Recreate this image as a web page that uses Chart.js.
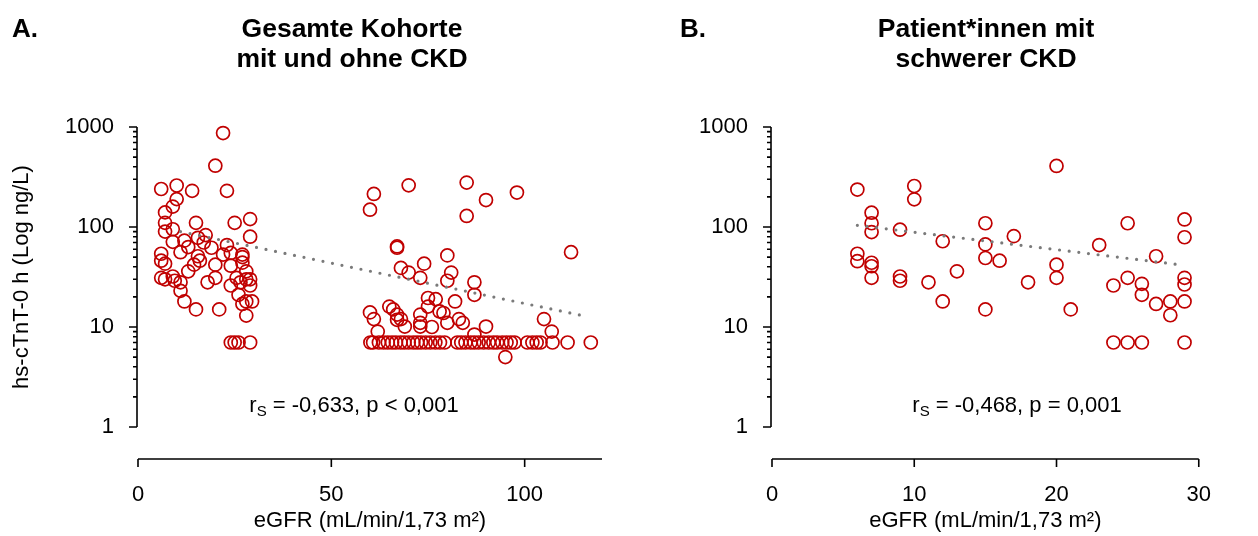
<!DOCTYPE html>
<html lang="de">
<head>
  <meta charset="UTF-8">
  <title>hs-cTnT vs eGFR</title>
  <script src="https://cdn.jsdelivr.net/npm/chart.js@4.4.1/dist/chart.umd.min.js"></script>
  <style>
    body {
      margin: 0;
      background: #fff;
      font-family: "Liberation Sans", Arial, sans-serif;
      color: #000;
    }
    #wrap { position: relative; width: 1258px; height: 536px; }
    canvas { position: absolute; top: 0; }
    .tag { position: absolute; top: 13px; font-weight: bold; font-size: 26px; }
    .title {
      position: absolute; top: 13px; font-weight: bold; font-size: 26.5px;
      line-height: 30px; text-align: center; white-space: nowrap;
      transform: translateX(-50%);
    }
    .stat {
      position: absolute; top: 392px; font-size: 22px; white-space: nowrap;
      transform: translateX(-50%);
    }
    .stat sub { font-size: 15px; vertical-align: -4px; line-height: 0; }
  </style>
</head>
<body>
<div id="wrap">
  <canvas id="chartA" width="629" height="536" style="left:0"></canvas>
  <canvas id="chartB" width="629" height="536" style="left:629px"></canvas>
  <div class="tag" style="left:12px">A.</div>
  <div class="tag" style="left:680px">B.</div>
  <div class="title" style="left:352px">Gesamte Kohorte<br>mit und ohne CKD</div>
  <div class="title" style="left:986px">Patient*innen mit<br>schwerer CKD</div>
  <div class="stat" style="left:354px">r<sub>S</sub> = -0,633, p &lt; 0,001</div>
  <div class="stat" style="left:1017px">r<sub>S</sub> = -0,468, p = 0,001</div>
</div>

<script>
  // --- data: panel A (whole cohort) ---
  const egfrA = [
    22, 20, 6, 10, 10, 14, 23, 9, 7, 7, 7, 9, 15, 25, 29, 29, 17.5, 9, 12, 15.5,
    17, 13, 11, 19, 23, 24, 22, 27, 27, 6, 6, 7, 15.5, 16, 14.5, 13, 20, 24, 27, 28,
    6, 7, 9, 9.5, 11, 11, 12, 15, 18, 20, 21, 24, 25.5, 26.5, 28, 29, 29, 26, 27, 28,
    29.5, 28, 24, 25, 26, 29,
    61, 60, 70, 85, 85, 90, 98, 112,
    67, 67, 68, 70, 74, 73, 80, 81, 80, 87, 87, 75, 77, 75, 82, 60, 61, 62, 65, 66,
    67, 68, 67, 69, 73, 73, 73, 76, 78, 79, 80, 83, 84, 90, 87, 105, 107, 95,
    60.1, 60.8, 62.3, 63.5, 64.6, 65.7, 66.7, 67.9, 68.9, 70, 71.2, 72.2, 73.2, 74.4,
    75.6, 76.9, 78.1, 79.3, 82.6, 83.6, 84.7, 86, 87, 88.1, 89.4, 90.7, 91.9, 92.9,
    94.2, 95.3, 96.4, 97.4, 100.7, 102, 103.1, 104.1, 107.2, 111.1, 117.1
  ];
  const tntA = [
    870, 410, 240, 260, 190, 230, 230, 160, 140, 110, 90, 95, 110, 110, 120, 80, 83, 71, 73, 78,
    70, 63, 56, 62, 66, 55, 53, 53, 50, 54, 46, 43, 51, 46, 42, 36, 42, 41, 44, 36,
    31, 30, 32, 29, 28, 23, 18, 15, 28, 31, 15, 26, 31, 28, 30, 30, 26, 21, 17, 18,
    18, 13, 7, 7, 7, 7,
    214, 149, 261, 278, 129, 186, 221, 56,
    62, 64, 39, 35, 43, 31, 52, 35, 29, 28, 21, 19.5, 19, 16, 18, 14, 12, 9, 16, 15,
    13.3, 12, 11.8, 10.1, 13.3, 11, 10.1, 10, 14.3, 13.8, 11, 12, 11, 10.1, 8.4, 12, 9, 5,
    7, 7, 7, 7, 7, 7, 7, 7, 7, 7, 7, 7, 7, 7,
    7, 7, 7, 7, 7, 7, 7, 7, 7, 7, 7, 7, 7, 7,
    7, 7, 7, 7, 7, 7, 7, 7, 7, 7, 7
  ];
  const trendA = [[11, 90], [115, 13]];

  // --- data: panel B (severe CKD) ---
  const egfrB = [
    6, 7, 7, 7, 6, 6, 7, 7, 7, 9, 9, 9, 10, 10, 11, 12, 12, 13, 15, 15,
    15, 15, 16, 17, 18, 20, 20, 20, 21, 23, 24, 24, 25, 25, 25, 26, 26, 26, 27, 27,
    28, 28, 29, 29, 29, 29, 29, 29
  ];
  const tntB = [
    237, 139, 109, 89, 54, 45.5, 43.9, 40.5, 31, 94, 32, 29, 257, 189, 28, 72, 18, 36, 109, 67,
    49, 15, 46, 81, 28, 408, 42, 31, 15, 66, 26, 7, 109, 31, 7, 27, 21, 7, 51, 17,
    18, 13.1, 119, 79, 31, 26.6, 18, 7
  ];
  const trendB = [[6, 104], [29, 41.4]];

  const yTicks = [1, 10, 100, 1000];
  const xTicksA = [0, 50, 100];
  const xTicksB = [0, 10, 20, 30];

  const RED = '#c00000';
  const FONT = { family: '"Liberation Sans", Arial, sans-serif', size: 22 };

  // GraphPad-style axes (x axis dropped below the plot), drawn from the scales
  const offsetAxes = {
    id: 'offsetAxes',
    afterDraw(chart, args, opts) {
      const { ctx, chartArea, scales: { x, y } } = chart;
      const ax = chartArea.left - opts.yGap;
      const ay = chartArea.bottom + opts.xGap;
      ctx.save();
      ctx.strokeStyle = '#000';
      ctx.lineWidth = 1.6;
      ctx.lineCap = 'butt';
      ctx.beginPath();
      ctx.moveTo(ax, y.getPixelForValue(yTicks[0]));
      ctx.lineTo(ax, y.getPixelForValue(yTicks[yTicks.length - 1]));
      yTicks.forEach((v, i) => {
        const p = y.getPixelForValue(v);
        ctx.moveTo(ax - 8, p); ctx.lineTo(ax, p);
        if (i < yTicks.length - 1) {
          for (let k = 2; k <= 9; k++) {
            const q = y.getPixelForValue(v * k);
            ctx.moveTo(ax - 4, q); ctx.lineTo(ax, q);
          }
        }
      });
      ctx.moveTo(x.getPixelForValue(x.min), ay);
      ctx.lineTo(x.getPixelForValue(x.max), ay);
      opts.xTicks.forEach(v => {
        const p = x.getPixelForValue(v);
        ctx.moveTo(p, ay); ctx.lineTo(p, ay + 8);
      });
      ctx.stroke();
      ctx.restore();
    }
  };

  function makePanel(id, egfr, tnt, trend, xMax, xTicks, leftW, rightPad, yTitle) {
    const pts = egfr.map((v, i) => ({ x: v, y: tnt[i] }));
    return new Chart(document.getElementById(id), {
      type: 'scatter',
      data: {
        datasets: [
          {
            data: trend.map(p => ({ x: p[0], y: p[1] })),
            showLine: true,
            borderColor: '#7a7a7a',
            borderWidth: 3.2,
            borderDash: [0, 9.7],
            borderCapStyle: 'round',
            pointRadius: 0,
            order: 0
          },
          {
            data: pts,
            pointRadius: 6.5,
            pointBorderWidth: 1.7,
            pointBorderColor: RED,
            pointBackgroundColor: 'rgba(0,0,0,0)',
            order: 1
          }
        ]
      },
      options: {
        responsive: false,
        animation: false,
        events: [],
        clip: false,
        layout: { padding: { top: 127, right: rightPad, bottom: 0, left: 0 } },
        plugins: {
          legend: { display: false },
          tooltip: { enabled: false },
          offsetAxes: { xGap: 32, yGap: 1, xTicks }
        },
        scales: {
          x: {
            type: 'linear',
            min: 0,
            max: xMax,
            grid: { display: false },
            border: { display: false },
            afterBuildTicks: s => { s.ticks = xTicks.map(v => ({ value: v })); },
            afterFit: s => { s.height = 109; },
            ticks: { color: '#000', font: FONT, padding: 47, maxRotation: 0 },
            title: {
              display: true,
              text: 'eGFR (mL/min/1,73 m²)',
              color: '#000',
              font: FONT,
              padding: { top: 0, bottom: 2 }
            }
          },
          y: {
            type: 'logarithmic',
            min: 1,
            max: 1000,
            grid: { display: false },
            border: { display: false },
            afterBuildTicks: s => { s.ticks = yTicks.map(v => ({ value: v })); },
            afterFit: s => { s.width = leftW; },
            ticks: { color: '#000', font: FONT, padding: 16, callback: v => String(v) },
            title: {
              display: !!yTitle,
              text: yTitle || '',
              color: '#000',
              font: FONT,
              padding: { top: 9, bottom: 0 }
            }
          }
        }
      },
      plugins: [offsetAxes]
    });
  }

  makePanel('chartA', egfrA, tntA, trendA, 120, xTicksA, 138, 27, 'hs-cTnT-0 h (Log ng/L)');
  makePanel('chartB', egfrB, tntB, trendB, 30, xTicksB, 143, 24, null);
</script>
</body>
</html>
